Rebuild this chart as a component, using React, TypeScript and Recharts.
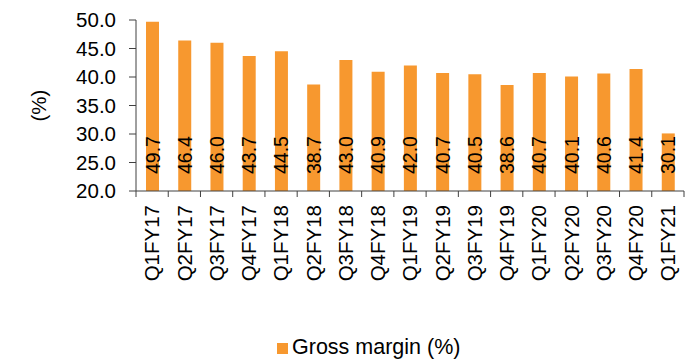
import { BarChart, Bar, XAxis, YAxis, Legend, LabelList } from "recharts";

// quarterly gross margin, %
const quarters = [
	"Q1FY17", "Q2FY17", "Q3FY17", "Q4FY17",
	"Q1FY18", "Q2FY18", "Q3FY18", "Q4FY18",
	"Q1FY19", "Q2FY19", "Q3FY19", "Q4FY19",
	"Q1FY20", "Q2FY20", "Q3FY20", "Q4FY20",
	"Q1FY21",
];
const grossMargin = [
	49.7, 46.4, 46.0, 43.7, 44.5, 38.7, 43.0, 40.9, 42.0, 40.7, 40.5, 38.6,
	40.7, 40.1, 40.6, 41.4, 30.1,
];
const yTicks = [20, 25, 30, 35, 40, 45, 50];

const data = quarters.map((name, i) => ({ name, value: grossMargin[i] }));

const W = 694;
const H = 362;
const margin = { top: 20, right: 10, left: 0, bottom: 36 };
const Y_AXIS_W = 136;
const FONT = "'Liberation Sans', Arial, sans-serif";
const ORANGE = "#F7982F";
const AXIS = "#404040";

const band = (W - margin.left - margin.right - Y_AXIS_W) / quarters.length;

// category label rotated, tick marks on the category boundaries
const QuarterTick = (props: any) => {
	const { x, y, payload, index } = props;
	const labelY = y + 14;
	return (
		<g>
			<line x1={x - band / 2} x2={x - band / 2} y1={y} y2={y + 6} stroke={AXIS} />
			{index === quarters.length - 1 && (
				<line x1={x + band / 2} x2={x + band / 2} y1={y} y2={y + 6} stroke={AXIS} />
			)}
			<text
				x={x}
				y={labelY}
				dy="0.36em"
				transform={`rotate(-90, ${x}, ${labelY})`}
				textAnchor="end"
				fontSize={20.5}
				fontFamily={FONT}
				fill="#000"
			>
				{payload.value}
			</text>
		</g>
	);
};

const ValueLabel = (props: any) => {
	const { x, y, width, height, value } = props;
	const cx = x + width / 2;
	const by = y + height - 17;
	return (
		<text
			x={cx}
			y={by}
			dy="0.36em"
			transform={`rotate(-90, ${cx}, ${by})`}
			textAnchor="start"
			fontSize={19.5}
			fontFamily={FONT}
			fill="#000"
		>
			{Number(value).toFixed(1)}
		</text>
	);
};

const AxisTitle = (props: any) => {
	const { viewBox } = props;
	const cx = viewBox.x + 39;
	const cy = viewBox.y + viewBox.height / 2;
	return (
		<text
			x={cx}
			y={cy}
			dy="0.36em"
			transform={`rotate(-90, ${cx}, ${cy})`}
			textAnchor="middle"
			fontSize={20.5}
			fontFamily={FONT}
			fill="#000"
		>
			(%)
		</text>
	);
};

export default function App() {
	return (
		<div style={{ position: "absolute", left: 0, top: 0, background: "#fff" }}>
			<BarChart width={W} height={H} data={data} margin={margin} barCategoryGap={0}>
				<XAxis
					dataKey="name"
					interval={0}
					height={110}
					tickSize={0}
					tickMargin={0}
					stroke={AXIS}
					tick={<QuarterTick />}
				/>
				<YAxis
					width={Y_AXIS_W}
					domain={[20, 50]}
					ticks={yTicks}
					interval={0}
					tickFormatter={(v: number) => v.toFixed(1)}
					tickSize={7}
					tickMargin={13}
					stroke={AXIS}
					tick={{ fill: "#000", fontSize: 20.5, fontFamily: FONT }}
					label={<AxisTitle />}
				/>
				<Legend
					iconType="square"
					iconSize={11}
					align="left"
					wrapperStyle={{ left: 277, top: 335, width: 280, fontFamily: FONT, fontSize: 21.5 }}
					formatter={(v: string) => <span style={{ color: "#000" }}>{v}</span>}
				/>
				<Bar dataKey="value" name="Gross margin (%)" fill={ORANGE} barSize={13} isAnimationActive={false}>
					<LabelList dataKey="value" content={<ValueLabel />} />
				</Bar>
			</BarChart>
		</div>
	);
}
